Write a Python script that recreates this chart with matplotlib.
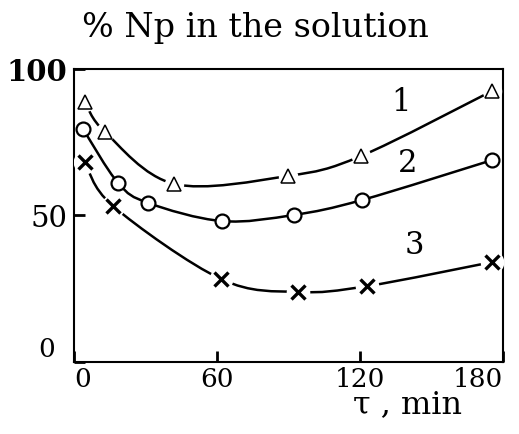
import numpy as np
import matplotlib
matplotlib.use("Agg")
import matplotlib.pyplot as plt
from matplotlib.path import Path
from matplotlib.patches import PathPatch
from matplotlib.transforms import ScaledTranslation

plt.rcParams['font.family'] = ['DejaVu Serif']

# values (time in min, % Np in the solution)
t1 = [4.6, 13.0, 42.0, 89.8, 120.4, 175.4]
np1 = [88.7, 78.5, 60.8, 63.5, 70.3, 92.5]

t2 = [3.8, 18.5, 31.1, 62.1, 92.3, 120.9, 175.4]
np2 = [79.5, 61.1, 54.3, 48.1, 50.2, 55.3, 68.9]

t3 = [4.6, 16.4, 61.7, 94.0, 123.0, 175.4]
np3 = [68.3, 53.2, 28.3, 23.9, 25.9, 34.1]

curve_names = ['1', '2', '3']
name_pos = [(137, 89), (140, 68), (143, 40)]

xticks = [0, 60, 120, 180]
xtick_labels = ['0', '60', '120', '180']
yticks = [0, 50, 100]
ytick_labels = ['0', '50', '100']


def smooth_path(xs, ys):
    # catmull-rom through the points, drawn as bezier segments
    p = np.column_stack([xs, ys])
    p = np.vstack([p[0], p, p[-1]])
    verts = [p[1]]
    codes = [Path.MOVETO]
    for i in range(1, len(p) - 2):
        c1 = p[i] + (p[i + 1] - p[i - 1]) / 6
        c2 = p[i + 1] - (p[i + 2] - p[i]) / 6
        verts += [c1, c2, p[i + 1]]
        codes += [Path.CURVE4] * 3
    return Path(verts, codes)


fig = plt.figure(figsize=(5.19, 4.35), dpi=100)
ax = fig.add_axes([0.1426, 0.1655, 0.8266, 0.6736])

for xs, ys in [(t1, np1), (t2, np2), (t3, np3)]:
    ax.add_patch(PathPatch(smooth_path(xs, ys), fill=False, lw=1.8,
                           color='black', zorder=2, capstyle='round'))

# white halos give the small gaps around the markers
ax.plot(t1, np1, ls='none', marker='o', ms=14, mfc='white', mec='none', zorder=3)
ax.plot(t3, np3, ls='none', marker='o', ms=17, mfc='white', mec='none', zorder=3)

ax.plot(t1, np1, ls='none', marker='^', ms=10, mfc='white', mec='black',
        mew=1.1, zorder=4)
ax.plot(t2, np2, ls='none', marker='o', ms=10, mfc='white', mec='black',
        mew=1.6, zorder=4)
ax.plot(t3, np3, ls='none', marker='x', ms=10, mec='black', mew=2.4, zorder=4)

for name, (x, y) in zip(curve_names, name_pos):
    ax.text(x, y, name, fontsize=22, ha='center', va='center')

ax.set_xlim(0, 180)
ax.set_ylim(0, 100)
ax.set_xticks(xticks)
ax.set_xticklabels(xtick_labels, fontsize=19)
ax.set_yticks(yticks)
ax.set_yticklabels(ytick_labels, fontsize=21)
ax.tick_params(direction='in', length=8, width=2)
ax.tick_params(axis='x', pad=3)
ax.tick_params(axis='y', pad=5)

xl = ax.get_xticklabels()
xl[0].set_ha('left')
xl[-1].set_ha('right')
yl = ax.get_yticklabels()
yl[0].set_fontsize(19)
yl[0].set_transform(yl[0].get_transform() +
                    ScaledTranslation(-0.12, 0.16, fig.dpi_scale_trans))
yl[-1].set_fontweight('bold')

for s in ax.spines.values():
    s.set_linewidth(1.5)

fig.text(0.492, 0.915, '% Np in the solution', fontsize=24,
         ha='center', va='baseline')
fig.text(0.786, 0.051, 'τ , min', fontsize=23, ha='center', va='baseline')

fig.savefig('out.png', dpi=100)
